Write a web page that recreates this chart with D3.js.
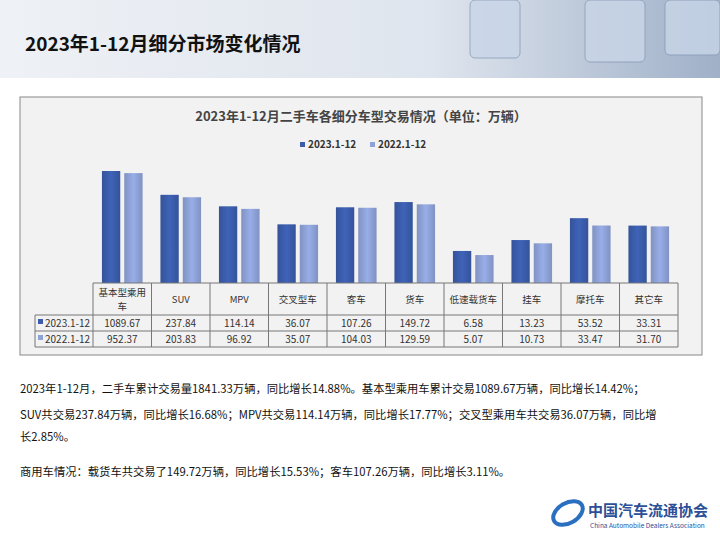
<!DOCTYPE html>
<html><head><meta charset="utf-8">
<script src="https://cdn.jsdelivr.net/npm/d3@7"></script>
<style>
body{margin:0;background:#fff;font-family:"Noto Sans CJK SC","Noto Sans",sans-serif;}
</style></head>
<body><svg id="c" width="720" height="540"></svg>
<script>
const categories = ["基本型乘用车","SUV","MPV","交叉型车","客车","货车","低速载货车","挂车","摩托车","其它车"];
const series = ["2023.1-12","2022.1-12"];
const v2023 = [1089.67,237.84,114.14,36.07,107.26,149.72,6.58,13.23,53.52,33.31];
const v2022 = [952.37,203.83,96.92,35.07,104.03,129.59,5.07,10.73,33.47,31.70];
const colors = ["#3b5cab","#8ea2d8"];
const notes = [
  "2023年1-12月，二手车累计交易量1841.33万辆，同比增长14.88%。基本型乘用车累计交易1089.67万辆，同比增长14.42%；",
  "SUV共交易237.84万辆，同比增长16.68%；MPV共交易114.14万辆，同比增长17.77%；交叉型乘用车共交易36.07万辆，同比增",
  "长2.85%。",
  "商用车情况：载货车共交易了149.72万辆，同比增长15.53%；客车107.26万辆，同比增长3.11%。"
];

var svg = d3.select("#c");
var defs = svg.append("defs");
var hg = defs.append("linearGradient").attr("id","hdr");
hg.append("stop").attr("offset","0%").attr("stop-color","#eef1f5");
hg.append("stop").attr("offset","60%").attr("stop-color","#dfe5ee");
hg.append("stop").attr("offset","100%").attr("stop-color","#9fb0c8");
svg.append("rect").attr("width",720).attr("height",78).attr("fill","url(#hdr)");
// decorative boxes
[[470,0,50,58],[585,0,60,62],[665,0,55,55]].forEach(function(b){
  svg.append("rect").attr("x",b[0]).attr("y",b[1]).attr("width",b[2]).attr("height",b[3])
    .attr("rx",5).attr("fill","#c9d6e8").attr("stroke","#8a9cb8").attr("opacity",0.8);
});
svg.append("text").attr("x",25).attr("y",51).attr("font-size",19).attr("font-weight","bold")
  .attr("fill","#111").text("2023年1-12月细分市场变化情况");

// chart box
svg.append("rect").attr("x",20).attr("y",97).attr("width",682).attr("height",258)
  .attr("fill","#f2f2f2").attr("stroke","#888");
svg.append("text").attr("x",361).attr("y",121).attr("text-anchor","middle").attr("font-size",13)
  .attr("font-weight","bold").attr("fill","#444").text("2023年1-12月二手车各细分车型交易情况（单位：万辆）");
var lg = svg.append("g").attr("font-size",10).attr("fill","#333").attr("font-weight","bold");
[[300,0],[370,1]].forEach(function(p){
  lg.append("rect").attr("x",p[0]).attr("y",142).attr("width",5).attr("height",5).attr("fill",colors[p[1]]);
  lg.append("text").attr("x",p[0]+8).attr("y",148).text(series[p[1]]);
});

bars = series.map(function(s,i){
  var g = defs.append("linearGradient").attr("id","g"+i);
  g.append("stop").attr("offset","0%").attr("stop-color",d3.color(colors[i]).darker(0.3));
  g.append("stop").attr("offset","50%").attr("stop-color",d3.color(colors[i]).brighter(0.2));
  g.append("stop").attr("offset","100%").attr("stop-color",d3.color(colors[i]).darker(0.3));
  return "url(#g"+i+")";
});

var x = d3.scaleBand().domain(categories).range([93,678]);
var x1 = d3.scaleBand().domain([0,1]).range([0,x.bandwidth()]).paddingInner(0.18).paddingOuter(0.4);
var y = d3.scaleLog().domain([0.85,1089.67]).range([283,171]);

var vals = [v2023,v2022];
vals.forEach(function(arr,si){
  svg.append("g").selectAll("rect").data(arr).join("rect")
    .attr("x",(d,i)=>x(categories[i])+x1(si))
    .attr("width",x1.bandwidth())
    .attr("y",d=>y(d)).attr("height",d=>283-y(d))
    .attr("fill",bars[si]);
});

// data table
var t = svg.append("g").attr("stroke","#777").attr("fill","none");
t.append("line").attr("x1",93).attr("x2",678).attr("y1",283).attr("y2",283);
[315,331,347].forEach(yy=>t.append("line").attr("x1",35).attr("x2",678).attr("y1",yy).attr("y2",yy));
t.append("line").attr("x1",35).attr("x2",35).attr("y1",315).attr("y2",347);
categories.forEach(function(c,i){t.append("line").attr("x1",x(c)).attr("x2",x(c)).attr("y1",283).attr("y2",347);});
t.append("line").attr("x1",678).attr("x2",678).attr("y1",283).attr("y2",347);

var tx = svg.append("g").attr("font-size",9.5).attr("fill","#333").attr("text-anchor","middle");
categories.forEach(function(c,i){
  var cx = x(c)+x.bandwidth()/2;
  if (c.length > 5) {
    tx.append("text").attr("x",cx).attr("y",296).text(c.slice(0,5));
    tx.append("text").attr("x",cx).attr("y",310).text(c.slice(5));
  } else {
    tx.append("text").attr("x",cx).attr("y",303).text(c);
  }
  tx.append("text").attr("x",cx).attr("y",327).attr("font-size",10).text(v2023[i].toFixed(2));
  tx.append("text").attr("x",cx).attr("y",343).attr("font-size",10).text(v2022[i].toFixed(2));
});
series.forEach(function(s,i){
  svg.append("rect").attr("x",38).attr("y",319+16*i).attr("width",5).attr("height",5).attr("fill",colors[i]);
  svg.append("text").attr("x",45).attr("y",327+16*i).attr("font-size",10).attr("fill","#333").text(s);
});

// notes
var ny = [393,419,441,476];
notes.forEach(function(n,i){
  svg.append("text").attr("x",20).attr("y",ny[i]).attr("font-size",11.3).attr("fill","#111").text(n);
});

// logo
var lgo = svg.append("g");
lgo.append("ellipse").attr("cx",568).attr("cy",513).attr("rx",16).attr("ry",10)
  .attr("fill","none").attr("stroke","#2a6fc0").attr("stroke-width",4).attr("transform","rotate(-30,568,513)");
lgo.append("text").attr("x",588).attr("y",516).attr("font-size",15).attr("font-weight","bold")
  .attr("fill","#2c4f97").attr("font-family","Noto Sans CJK SC").text("中国汽车流通协会");
lgo.append("text").attr("x",590).attr("y",528).attr("font-size",6.5).attr("fill","#2c4f97")
  .text("China Automobile Dealers Association");
</script></body></html>
